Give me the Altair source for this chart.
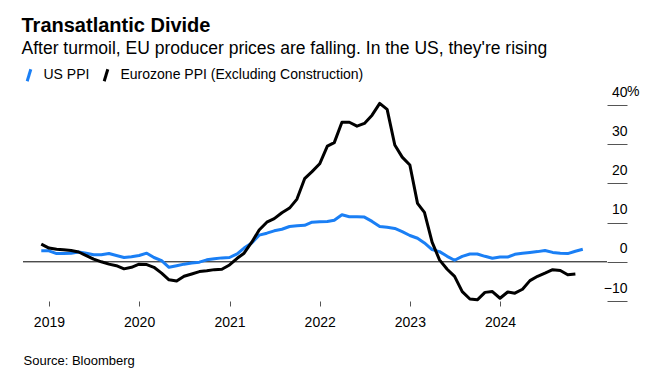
import altair as alt
import pandas as pd

FONT = "Liberation Sans"

series_names = ["US PPI", "Eurozone PPI (Excluding Construction)"]
series_colors = ["#1a7ff5", "#000000"]

# Monthly year-over-year change, %, starting December 2018
us_start = "2018-12-01"
us_ppi = [
    2.8,
    2.8, 2.1, 2.1, 2.2, 2.5, 2.2, 1.8, 1.8, 2.1, 1.6, 1.1, 1.3,
    1.6, 2.2, 1.1, 0.3, -1.4, -1.0, -0.6, -0.3, -0.1, 0.5, 0.8, 1.0,
    1.1, 2.0, 3.5, 4.8, 6.8, 7.3, 7.9, 8.3, 9.0, 9.2, 9.3, 10.1,
    10.2, 10.3, 10.6, 12.0, 11.5, 11.5, 11.4, 10.3, 9.0, 8.8, 8.5, 7.7,
    6.7, 6.0, 4.8, 3.1, 2.6, 1.4, 0.4, 1.4, 2.0, 2.0, 1.4, 0.9,
    1.2, 1.2, 1.9, 2.2, 2.4, 2.6, 2.9, 2.4, 2.2, 2.1, 2.7, 3.2,
]
eu_start = "2018-12-01"
eu_ppi = [
    4.5,
    3.5, 3.2, 3.1, 2.9, 2.5, 1.6, 0.7, 0.0, -0.6, -1.0, -1.8, -1.4,
    -0.6, -0.7, -1.4, -2.9, -4.6, -4.9, -3.7, -3.1, -2.5, -2.3, -2.0, -1.9,
    -0.8, 0.9, 2.2, 5.0, 8.1, 10.1, 11.0, 12.5, 13.7, 16.0, 21.2, 23.0,
    25.0, 29.5, 30.4, 35.6, 35.6, 34.6, 35.3, 37.4, 40.4, 38.9, 29.8, 26.7,
    24.7, 14.9, 12.6, 5.0, 0.5, -1.9, -3.7, -7.6, -9.5, -9.7, -7.8, -7.6,
    -9.3, -7.7, -8.0, -7.0, -4.8, -3.7, -2.9, -2.0, -2.2, -3.3, -3.1,
]
y_ticks = [-10, 0, 10, 20, 30, 40]
tick_years = [2019, 2020, 2021, 2022, 2023, 2024]

us_df = pd.DataFrame({
    "date": pd.date_range(us_start, periods=len(us_ppi), freq="MS"),
    "value": us_ppi,
    "series": series_names[0],
    "order": 0,
})
eu_df = pd.DataFrame({
    "date": pd.date_range(eu_start, periods=len(eu_ppi), freq="MS"),
    "value": eu_ppi,
    "series": series_names[1],
    "order": 1,
})
df = pd.concat([us_df, eu_df], ignore_index=True)

W, H = 584, 196

x_scale = alt.Scale(domain=[alt.DateTime(year=2018, month=9, date=18),
                            alt.DateTime(year=2025, month=3, date=9)])
y_scale = alt.Scale(domain=[-10, 40], nice=False)

x_axis = alt.Axis(
    values=[alt.DateTime(year=y, month=1, date=1) for y in tick_years],
    format="%Y", domain=False, grid=False,
    tickSize=5, tickColor="#555", tickWidth=1,
    labelPadding=9, labelFontSize=14, labelFont=FONT, labelColor="#000",
    labelFlush=False,
    title="Source: Bloomberg", titleX=0, titleY=63, titleAlign="left",
    titleAnchor="start", titleBaseline="alphabetic", titleFontSize=13,
    titleFontWeight="normal", titleFont=FONT, titleColor="#000",
)
y_axis = alt.Axis(
    orient="right", values=y_ticks, title=None, domain=False, grid=False,
    tickSize=20, tickColor="#555", tickWidth=1,
    labelAlign="right", labelPadding=0, labelBaseline="alphabetic",
    labelOffset=-9, labelFontSize=14, labelFont=FONT, labelColor="#000",
)

zero = alt.Chart(pd.DataFrame({"value": [0]})).mark_rule(
    color="#000", strokeWidth=1
).encode(y=alt.Y("value:Q", scale=y_scale, axis=y_axis))

lines = alt.Chart(df).mark_line(strokeWidth=3, strokeJoin="round").encode(
    x=alt.X("date:T", scale=x_scale, axis=x_axis),
    y=alt.Y("value:Q", scale=y_scale, axis=y_axis),
    color=alt.Color(
        "series:N",
        scale=alt.Scale(domain=series_names, range=series_colors),
        legend=alt.Legend(
            title=None, orient="none", direction="horizontal",
            legendX=-1.5, legendY=-37.5,
            symbolType="M-0.3,1L0.3,-1", symbolSize=144, symbolStrokeWidth=3,
            labelFontSize=14, labelFont=FONT, labelColor="#000",
            labelOffset=7, columnPadding=8, padding=0, labelLimit=0,
        ),
    ),
    order="order:Q",
)

pct = alt.Chart(pd.DataFrame({"value": [40], "t": ["%"]})).mark_text(
    align="left", baseline="alphabetic", dy=-9, fontSize=14, font=FONT, color="#000"
).encode(
    y=alt.Y("value:Q", scale=y_scale, axis=y_axis),
    x=alt.value(W + 20),
    text="t:N",
)

chart = alt.layer(zero, lines, pct).properties(
    width=W, height=H,
    title=alt.TitleParams(
        text="Transatlantic Divide",
        subtitle="After turmoil, EU producer prices are falling. In the US, they're rising",
        anchor="start", font=FONT, fontSize=20, fontWeight="bold", color="#000",
        subtitleFont=FONT, subtitleFontSize=17.5, subtitleColor="#000",
        subtitlePadding=4, offset=10,
    ),
    padding={"left": 15, "top": 97, "right": 40, "bottom": 75},
    autosize=alt.AutoSizeParams(type="none"),
).configure_view(stroke=None)

chart.save("out.html", embed_options={"renderer": "svg", "actions": False})
